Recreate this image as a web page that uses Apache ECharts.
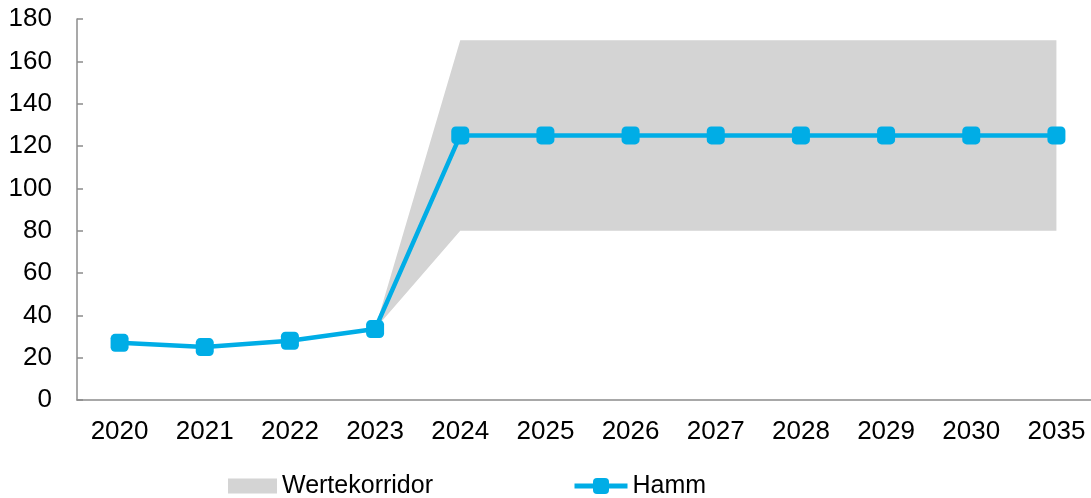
<!DOCTYPE html>
<html>
<head>
<meta charset="utf-8">
<script src="https://cdn.jsdelivr.net/npm/echarts@6/dist/echarts.min.js"></script>
<style>
  html, body { margin: 0; padding: 0; background: #fff; }
  #chart { width: 1091px; height: 498px; }
</style>
</head>
<body>
<div id="chart"></div>
<script>
// Years on the category axis
const years = ['2020', '2021', '2022', '2023', '2024', '2025', '2026', '2027', '2028', '2029', '2030', '2035'];
// Hamm values
const hamm = [27, 25, 28, 33.5, 125, 125, 125, 125, 125, 125, 125, 125];
// Corridor bounds (starts at the last measured year)
const corridorLow  = [null, null, null, 33.5, 80, 80, 80, 80, 80, 80, 80, 80];
const corridorHigh = [null, null, null, 33.5, 170, 170, 170, 170, 170, 170, 170, 170];
// Y axis ticks
const yMin = 0, yMax = 180, yStep = 20;

const corridorBand = corridorHigh.map((h, i) => (h == null || corridorLow[i] == null) ? null : h - corridorLow[i]);

const FONT = 'Liberation Sans, Arial, sans-serif';
const AXIS_COLOR = '#8c8c8c';
const BLUE = '#00ade6';
const GREY = '#d4d4d4';
const legendText = { color: '#000', fontFamily: FONT, fontSize: 25, lineHeight: 28 };

const chart = echarts.init(document.getElementById('chart'), null, { renderer: 'canvas' });
chart.setOption({
  animation: false,
  grid: { left: 77, top: 19, width: 1022, height: 381, containLabel: false, outerBoundsMode: 'none' },
  xAxis: {
    type: 'category',
    data: years,
    boundaryGap: true,
    axisLine: { lineStyle: { color: AXIS_COLOR, width: 1.5 } },
    axisTick: { inside: true, length: 9, lineStyle: { color: AXIS_COLOR, width: 1.5 } },
    axisLabel: { color: '#000', fontFamily: FONT, fontSize: 26, margin: 19 }
  },
  yAxis: {
    type: 'value',
    min: yMin, max: yMax, interval: yStep,
    splitLine: { show: false },
    axisLine: { show: true, lineStyle: { color: AXIS_COLOR, width: 1.5 } },
    axisTick: { show: true, inside: true, length: 6, lineStyle: { color: AXIS_COLOR, width: 1.5 } },
    axisLabel: { color: '#000', fontFamily: FONT, fontSize: 26, margin: 25 }
  },
  legend: [
    {
      data: [{ name: 'Wertekorridor', icon: 'rect' }],
      left: 228, top: 472, padding: 0,
      itemWidth: 49, itemHeight: 15,
      textStyle: legendText
    },
    {
      data: [{ name: 'Hamm', lineStyle: { width: 5 } }],
      left: 572, top: 472, padding: 0,
      itemWidth: 53, itemHeight: 20,
      textStyle: legendText
    }
  ],
  series: [
    {
      name: 'base', type: 'line', stack: 'corridor',
      data: corridorLow, symbol: 'none', silent: true,
      lineStyle: { opacity: 0 }, areaStyle: { opacity: 0 }
    },
    {
      name: 'Wertekorridor', type: 'line', stack: 'corridor',
      data: corridorBand, symbol: 'none',
      itemStyle: { color: GREY },
      lineStyle: { opacity: 0, width: 0 },
      areaStyle: { color: GREY, opacity: 1 }
    },
    {
      name: 'Hamm', type: 'line',
      data: hamm,
      symbol: 'roundRect', symbolSize: 18,
      itemStyle: { color: BLUE },
      lineStyle: { color: BLUE, width: 4.5 },
      z: 5
    }
  ]
});
</script>
</body>
</html>
